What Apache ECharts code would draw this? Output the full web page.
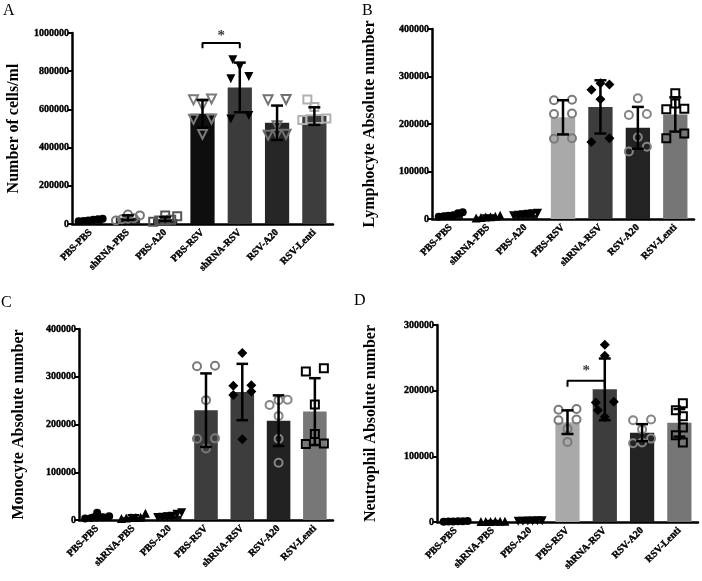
<!DOCTYPE html>
<html>
<head>
<meta charset="utf-8">
<script src="https://cdn.jsdelivr.net/npm/echarts@6/dist/echarts.min.js"></script>
<style>
html, body { margin: 0; padding: 0; background: #fff; }
#main { width: 702px; height: 581px; }
</style>
</head>
<body>
<div id="main"></div>
<script>
var categories = ['PBS-PBS', 'shRNA-PBS', 'PBS-A20', 'PBS-RSV', 'shRNA-RSV', 'RSV-A20', 'RSV-Lenti'];

// A - total cells
var aMeans = [20000, 33000, 26000, 577000, 715000, 530000, 565000];
var aSD = [6000, 12000, 10000, 73000, 130000, 90000, 46000];
var aPoints = [
	[14000, 18000, 22000, 25000, 28000, 16000],
	[18000, 25000, 45000, 50000, 30000, 28000],
	[12000, 18000, 40000, 45000, 20000, 22000],
	[650000, 655000, 620000, 550000, 548000, 470000],
	[860000, 825000, 760000, 772000, 550000, 568000],
	[650000, 652000, 515000, 470000, 468000, 465000],
	[652000, 612000, 552000, 548000, 545000, 550000]
];
var aBracket = [3, 4, 920000, 947000, 985000];

// B - lymphocyte
var bMeans = [8000, 5000, 9000, 214000, 236000, 192000, 220000];
var bSD = [3000, 2500, 2000, 36000, 56000, 44000, 36000];
var bPoints = [
	[5000, 8000, 12000, 14000, 6000, 7000],
	[3000, 5000, 8000, 4000, 6000, 2000],
	[8000, 10000, 12000, 9000, 7000, 11000],
	[250000, 251000, 222000, 221000, 170000, 169000],
	[283000, 286000, 272000, 252000, 162000, 170000],
	[254000, 221000, 219000, 172000, 152000, 142000],
	[265000, 243000, 231000, 232000, 180000, 170000]
];

// C - monocyte
var cMeans = [7000, 6000, 9000, 230000, 268000, 208000, 227000];
var cSD = [4000, 4000, 4000, 77000, 59000, 53000, 70000];
var cPoints = [
	[3000, 5000, 15000, 8000, 4000, 6000],
	[3000, 14000, 6000, 4000, 5000, 5000],
	[5000, 15000, 12000, 6000, 8000, 7000],
	[322000, 323000, 251000, 170000, 171000, 150000],
	[350000, 281000, 282000, 269000, 262000, 169000],
	[251000, 252000, 241000, 218000, 170000, 120000],
	[311000, 318000, 242000, 180000, 160000, 159000]
];

// D - neutrophil
var dMeans = [1000, 1000, 1500, 152000, 202000, 136000, 151000];
var dSD = [500, 500, 800, 18000, 47000, 13000, 21000];
var dPoints = [
	[500, 1000, 1500, 800, 1200, 700],
	[600, 900, 1200, 1000, 800, 1100],
	[1000, 2000, 1500, 1800, 1200, 1400],
	[172000, 171000, 155000, 156000, 142000, 122000],
	[270000, 253000, 183000, 182000, 170000, 160000],
	[155000, 156000, 141000, 127000, 120000, 121000],
	[181000, 170000, 161000, 144000, 132000, 121000]
];
var dBracket = [3, 4, 206000, 215000, 229000];

var serif = '"Liberation Serif", "DejaVu Serif", serif';

// marker styles: [symbol, rotate, fill, stroke]
var mk = {
	fCircle: ['circle', 0, '#000', '#000'],
	fUp: ['triangle', 0, '#000', '#000'],
	fDown: ['triangle', 180, '#000', '#000'],
	fDiamond: ['diamond', 0, '#000', '#000']
};
function hollow(sym, rot, col) { return [sym, rot, 'rgba(0,0,0,0)', col]; }

var panels = [
	{ letter: 'A', yName: 'Number of cells/ml', means: aMeans, sd: aSD, points: aPoints, max: 1000000, interval: 200000,
	  bracket: aBracket, grid: { left: 72, top: 33, width: 261, height: 191 }, nameGap: 50, letterPos: [3, 3],
	  barColors: ['#111', '#222', '#222', '#0e0e0e', '#3b3b3b', '#262626', '#3d3d3d'],
	  marks: [mk.fCircle, hollow('circle', 0, '#777'), hollow('rect', 0, '#555'), hollow('triangle', 180, '#7a7a7a'), mk.fDown, hollow('triangle', 180, '#707070'), hollow('rect', 0, '#b0b0b0')] },
	{ letter: 'B', yName: 'Lymphocyte Absolute number', means: bMeans, sd: bSD, points: bPoints, max: 400000, interval: 100000,
	  bracket: null, grid: { left: 432, top: 29, width: 262, height: 190 }, nameGap: 54, letterPos: [362, 3],
	  barColors: ['#111', '#111', '#111', '#a9a9a9', '#3d3d3d', '#232323', '#767676'],
	  marks: [mk.fCircle, mk.fUp, mk.fDown, hollow('circle', 0, '#7a7a7a'), mk.fDiamond, hollow('circle', 0, '#858585'), hollow('rect', 0, '#000')] },
	{ letter: 'C', yName: 'Monocyte Absolute number', means: cMeans, sd: cSD, points: cPoints, max: 400000, interval: 100000,
	  bracket: null, grid: { left: 79, top: 329, width: 254, height: 191 }, nameGap: 52, letterPos: [1, 295],
	  barColors: ['#111', '#111', '#111', '#3d3d3d', '#3d3d3d', '#222222', '#777777'],
	  marks: [mk.fCircle, mk.fUp, mk.fDown, hollow('circle', 0, '#7a7a7a'), mk.fDiamond, hollow('circle', 0, '#858585'), hollow('rect', 0, '#000')] },
	{ letter: 'D', yName: 'Neutrophil Absolute number', means: dMeans, sd: dSD, points: dPoints, max: 300000, interval: 100000,
	  bracket: dBracket, grid: { left: 437, top: 325, width: 261, height: 197 }, nameGap: 58, letterPos: [354, 293],
	  barColors: ['#111', '#111', '#111', '#a9a9a9', '#3d3d3d', '#232323', '#767676'],
	  marks: [mk.fCircle, mk.fUp, mk.fDown, hollow('circle', 0, '#7a7a7a'), mk.fDiamond, hollow('circle', 0, '#858585'), hollow('rect', 0, '#000')] }
];

// spread points of one group (Prism-like column scatter), returns px offsets
function spreadPoints(vals, max, plotH) {
	var s = 9, h = 7;
	var pxPer = plotH / max;
	var order = vals.map(function (v, i) { return i; }).sort(function (a, b) { return vals[a] - vals[b]; });
	var rows = [], row = null;
	order.forEach(function (i) {
		if (row && (vals[i] - vals[row[0]]) * pxPer < s * 0.6) {
			row.push(i);
		} else {
			row = [i];
			rows.push(row);
		}
	});
	var out = [], placed = [];
	function hits(x, y) {
		for (var j = 0; j < placed.length; j++) {
			var dx = placed[j][0] - x, dy = placed[j][1] - y;
			if (dx * dx + dy * dy < s * s * 0.8) return true;
		}
		return false;
	}
	rows.forEach(function (r) {
		var n = r.length;
		if (n == 1) {
			var y = vals[r[0]] * pxPer;
			var cand = [0, -h, h, -2 * h, 2 * h];
			var x = 0;
			for (var c = 0; c < cand.length; c++) {
				if (!hits(cand[c], y)) { x = cand[c]; break; }
			}
			out[r[0]] = x;
			placed.push([x, y]);
			return;
		}
		var gap = n == 2 ? 18 : Math.min(9, 24 / (n - 1));
		r.forEach(function (i, k) {
			var slot = n == 2 ? (k == 0 ? -0.5 : 0.5) : k - (n - 1) / 2;
			out[i] = slot * gap;
			placed.push([out[i], vals[i] * pxPer]);
		});
	});
	var lo = Math.min.apply(null, out), hi = Math.max.apply(null, out);
	var mid = (lo + hi) / 2;
	return out.map(function (o) { return o - mid; });
}

function renderErr(params, api) {
	var x = api.value(0);
	var lo = api.coord([x, api.value(1)]);
	var hi = api.coord([x, api.value(2)]);
	var half = api.size([1, 0])[0] * 0.16;
	var st = { stroke: '#000', lineWidth: 2.5 };
	return {
		type: 'group',
		children: [
			{ type: 'line', shape: { x1: lo[0], y1: lo[1], x2: hi[0], y2: hi[1] }, style: st },
			{ type: 'line', shape: { x1: hi[0] - half, y1: hi[1], x2: hi[0] + half, y2: hi[1] }, style: st },
			{ type: 'line', shape: { x1: lo[0] - half, y1: lo[1], x2: lo[0] + half, y2: lo[1] }, style: st }
		]
	};
}

var labelFont = { color: '#000', fontFamily: serif, fontWeight: 'bold', fontSize: 10, textBorderColor: '#000', textBorderWidth: 0.4 };

var grids = [], xAxes = [], yAxes = [], series = [], graphics = [];

panels.forEach(function (p, pi) {
	grids.push(p.grid);
	xAxes.push({
		type: 'category', gridIndex: pi, data: categories,
		axisLine: { onZero: false, lineStyle: { color: '#000', width: 2.5 } },
		axisTick: { alignWithLabel: true, length: 4, lineStyle: { color: '#000', width: 2 } },
		axisLabel: Object.assign({ interval: 0, rotate: 45, margin: 7 }, labelFont)
	});
	xAxes.push({ type: 'value', gridIndex: pi, min: -0.5, max: 6.5, show: false });
	yAxes.push({
		type: 'value', gridIndex: pi, min: 0, max: p.max, interval: p.interval,
		name: p.yName, nameLocation: 'middle', nameGap: p.nameGap,
		nameTextStyle: { color: '#000', fontFamily: serif, fontWeight: 'bold', fontSize: 16 },
		axisLine: { show: true, onZero: false, lineStyle: { color: '#000', width: 2.5 } },
		axisTick: { show: true, length: 4, lineStyle: { color: '#000', width: 2 } },
		axisLabel: Object.assign({ margin: 3, formatter: function (v) { return String(v); } }, labelFont),
		splitLine: { show: false }
	});

	series.push({
		type: 'bar', xAxisIndex: pi * 2, yAxisIndex: pi, barWidth: '65%', z: 1,
		data: p.means.map(function (v, i) { return { value: v, itemStyle: { color: p.barColors[i] } }; })
	});

	var bandPx = p.grid.width / categories.length;
	p.points.forEach(function (vals, gi) {
		var offs = spreadPoints(vals, p.max, p.grid.height);
		var m = p.marks[gi];
		series.push({
			type: 'scatter', xAxisIndex: pi * 2 + 1, yAxisIndex: pi, z: 3,
			symbol: m[0], symbolRotate: m[1], symbolSize: m[0] == 'diamond' ? 10 : (m[0] == 'triangle' ? 9 : 8),
			itemStyle: { color: m[2], borderColor: m[3], borderWidth: m[2] == '#000' ? 0 : 2, opacity: 1 },
			emphasis: { disabled: true },
			data: vals.map(function (v, k) { return [gi + offs[k] / bandPx, v]; })
		});
	});

	series.push({
		type: 'custom', xAxisIndex: pi * 2, yAxisIndex: pi, z: 4,
		renderItem: renderErr, encode: { x: 0, y: [1, 2] },
		data: p.means.map(function (v, i) { return [i, Math.max(0, v - p.sd[i]), v + p.sd[i]]; })
	});

	if (p.bracket) {
		var b = p.bracket;
		series.push({
			type: 'line', xAxisIndex: pi * 2 + 1, yAxisIndex: pi, z: 5, symbol: 'none',
			lineStyle: { color: '#000', width: 2 },
			data: [[b[0], b[2]], [b[0], b[3]], [b[1], b[3]], [b[1], b[2]]]
		});
		series.push({
			type: 'scatter', xAxisIndex: pi * 2 + 1, yAxisIndex: pi, z: 5, symbolSize: 1,
			itemStyle: { color: 'rgba(0,0,0,0)' },
			label: { show: true, position: 'inside', formatter: '*', color: '#000', fontFamily: serif, fontWeight: 'bold', fontSize: 15 },
			data: [[(b[0] + b[1]) / 2, b[4]]]
		});
	}

	graphics.push({
		type: 'text', left: p.letterPos[0], top: p.letterPos[1],
		style: { text: p.letter, fill: '#000', font: '16px ' + serif }
	});
});

var myChart = echarts.init(document.getElementById('main'));
myChart.setOption({
	animation: false,
	backgroundColor: '#fff',
	grid: grids,
	xAxis: xAxes,
	yAxis: yAxes,
	series: series,
	graphic: graphics
});
</script>
</body>
</html>
